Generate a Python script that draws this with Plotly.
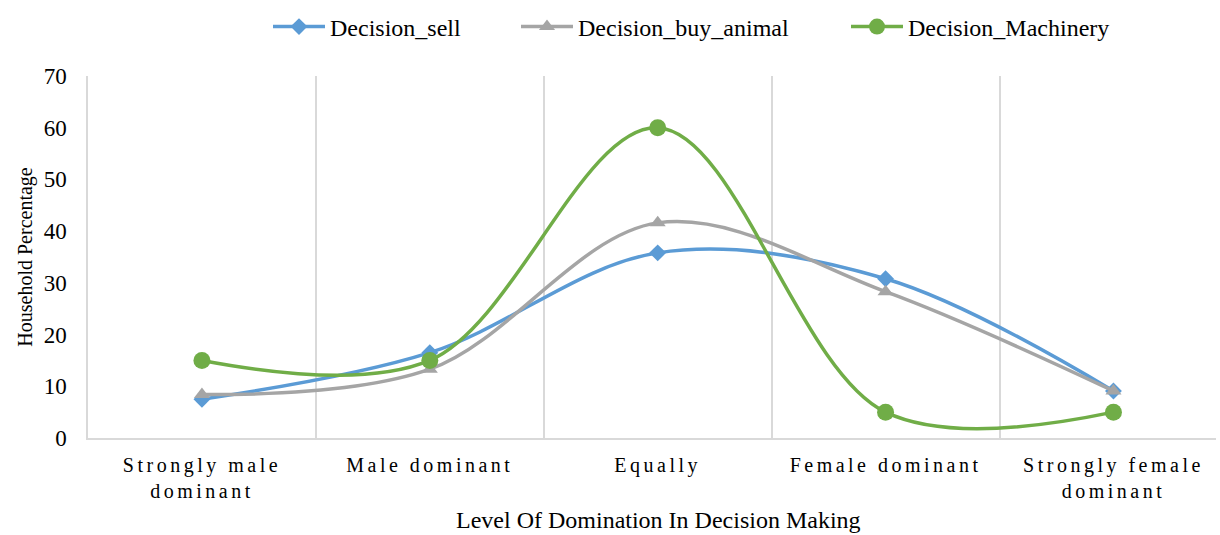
import plotly.graph_objects as go

categories = ["Strongly male<br>dominant", "Male dominant", "Equally", "Female dominant", "Strongly female<br>dominant"]
decision_sell = [7.5, 16.5, 35.8, 30.8, 9.1]
decision_buy_animal = [8.4, 13.3, 41.6, 28.3, 9.1]
decision_machinery = [15, 15, 60, 5, 5]
x_title = "Level Of Domination In Decision Making"
y_title = "Household Percentage"

FONT = "Liberation Serif, Times New Roman, serif"

L, R, T, B = 88, 4, 76, 97
W, H = 1220, 535
PW = W - L - R
PH = H - T - B

def px_x(px):
    return (px - L) / PW

def px_y(py):
    return 1 + (T - py) / PH

fig = go.Figure()
series = [
    ("Decision_sell", decision_sell, "#5B9BD5", "diamond", 13, "legend", 272),
    ("Decision_buy_animal", decision_buy_animal, "#A5A5A5", "triangle-up", 14, "legend2", 520),
    ("Decision_Machinery", decision_machinery, "#70AD47", "circle", 17, "legend3", 850),
]
for name, vals, color, sym, size, lg, _ in series:
    fig.add_trace(go.Scatter(
        x=categories, y=vals, name=name, mode="lines+markers", legend=lg,
        line=dict(color=color, width=3.5, shape="spline", smoothing=1.0),
        marker=dict(symbol=sym, size=size, color=color),
    ))

legend_common = dict(orientation="h", xanchor="left", yanchor="middle",
                     font=dict(family=FONT, size=24, color="black"),
                     bgcolor="rgba(0,0,0,0)", itemwidth=52)
legends = {}
for name, vals, color, sym, size, lg, lx in series:
    legends[lg] = dict(legend_common, x=px_x(lx - 4), y=px_y(27))

fig.update_layout(
    width=W, height=H,
    margin=dict(l=L, r=R, t=T, b=B, autoexpand=False),
    paper_bgcolor="white", plot_bgcolor="white",
    font=dict(family=FONT, size=20, color="black"),
    showlegend=True,
    **legends,
    xaxis=dict(
        type="category", range=[-0.5, 4.45], tickson="boundaries",
        showgrid=True, gridcolor="#D9D9D9", gridwidth=1.5,
        showline=True, linecolor="#D9D9D9", linewidth=1.5,
        ticks="", tickfont=dict(family=FONT, size=20), ticklabelstandoff=8,
    ),
    yaxis=dict(
        range=[0, 70], dtick=10, showgrid=False, zeroline=False,
        showline=True, linecolor="#D9D9D9", linewidth=1.5,
        ticks="", tickfont=dict(family=FONT, size=23), ticklabelstandoff=15,
        title=dict(text=y_title, font=dict(family=FONT, size=20), standoff=6),
    ),
    annotations=[dict(
        text=x_title, xref="paper", yref="paper",
        x=px_x(658), y=px_y(520), xanchor="center", yanchor="middle",
        showarrow=False, font=dict(family=FONT, size=24, color="black"),
    )],
)

post = ("document.body.style.margin='0';"
        "document.querySelectorAll('.xtick text').forEach(function(t){"
        "t.style.letterSpacing='3.5px';});")
fig.write_html("out.html", post_script=post, config={"displayModeBar": False})
